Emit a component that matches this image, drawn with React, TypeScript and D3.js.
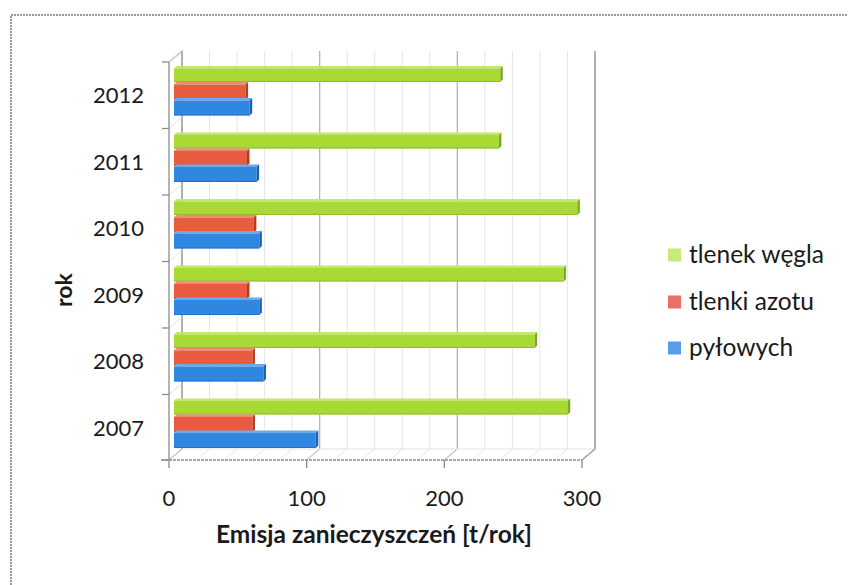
import { useMemo } from "react";
import * as d3 from "d3";

const years = ["2012", "2011", "2010", "2009", "2008", "2007"];
const seriesNames = ["tlenek węgla", "tlenki azotu", "pyłowych"];
// values per year, same order as years
const coValues = [237, 236, 293, 283, 262, 286];
const noxValues = [52, 53, 58, 53, 57, 57];
const dustValues = [55, 60, 62, 62, 65, 103];
const xTicks = [0, 100, 200, 300];
const minorTicks = d3.range(0, 301, 20);

const faceColors = ["#a9d934", "#e95b3e", "#2f87e0"];
const topColors = ["#c3e76a", "#f08a70", "#6aa9ee"];
const endColors = ["#7ea823", "#b53c22", "#1d5fb2"];
const legendColors = ["#c8ea78", "#ea6f66", "#5a9ceb"];

const FONT = "Lato, 'Open Sans', sans-serif";

export default function App() {
  const width = 848;
  const height = 585;
  const depth = { dx: 13, dy: -11 };
  const floorY = 460;
  const topY = 62;

  const x = useMemo(
    () => d3.scaleLinear().domain([0, 300]).range([169, 582]),
    [],
  );
  const y = useMemo(
    () => d3.scaleBand<string>().domain(years).range([topY, floorY + 1]),
    [],
  );
  const inner = useMemo(
    () => d3.scaleBand<string>().domain(seriesNames).range([4, 52]),
    [],
  );

  const series = [coValues, noxValues, dustValues];
  const barShift = 5;
  const d = 2.5;

  const bx = (v: number) => x(v) + barShift;

  return (
    <svg
      width={width}
      height={height}
      style={{ position: "absolute", left: 0, top: 0, background: "#fff" }}
      fontFamily={FONT}
    >
      {/* outer frame */}
      <path
        d={`M11,${height} L11,15 L${width},15`}
        fill="none"
        stroke="#7a7a7a"
        strokeWidth={1.5}
        strokeDasharray="2 1"
      />

      {/* back wall gridlines */}
      {minorTicks.map((t) => (
        <line
          key={"m" + t}
          x1={x(t) + depth.dx}
          x2={x(t) + depth.dx}
          y1={topY + depth.dy}
          y2={floorY + depth.dy}
          stroke={t % 100 === 0 ? "#b5b5b5" : "#e6e6e6"}
          strokeWidth={t % 100 === 0 ? 1.3 : 1}
        />
      ))}
      {/* floor */}
      {minorTicks.map((t) => (
        <line
          key={"f" + t}
          x1={x(t)}
          x2={x(t) + depth.dx}
          y1={floorY}
          y2={floorY + depth.dy}
          stroke={t % 100 === 0 ? "#a8a8a8" : "#e6e6e6"}
          strokeWidth={1}
        />
      ))}
      <line
        x1={x(0) + depth.dx}
        x2={x(300) + depth.dx}
        y1={floorY + depth.dy}
        y2={floorY + depth.dy}
        stroke="#e2e2e2"
      />
      {/* left wall */}
      <path
        d={`M${x(0)},${topY} L${x(0) + depth.dx},${topY + depth.dy} L${x(0) + depth.dx},${floorY + depth.dy}`}
        fill="none"
        stroke="#9a9a9a"
        strokeWidth={1.2}
      />
      {y.domain().map((yr) => (
        <line
          key={"lw" + yr}
          x1={x(0)}
          x2={x(0) + depth.dx}
          y1={y(yr)!}
          y2={y(yr)! + depth.dy}
          stroke="#e0e0e0"
        />
      ))}

      {/* bars */}
      {years.map((yr, i) => (
        <g key={yr}>
          {series.map((vals, s) => {
            const x0 = bx(0);
            const x1 = bx(vals[i]);
            const by = y(yr)! + inner(seriesNames[s])! + d;
            const fh = inner.bandwidth() - d + (s === 0 ? 0 : 1.5);
            return (
              <g key={s}>
                <polygon
                  points={`${x0},${by} ${x0 + d},${by - d} ${x1 + d},${by - d} ${x1},${by}`}
                  fill={topColors[s]}
                />
                <rect
                  x={x0}
                  y={by}
                  width={x1 - x0}
                  height={fh}
                  fill={faceColors[s]}
                />
                <line
                  x1={x0}
                  x2={x1}
                  y1={by + fh - 0.5}
                  y2={by + fh - 0.5}
                  stroke={endColors[s]}
                  strokeOpacity={0.6}
                />
                <polygon
                  points={`${x1},${by} ${x1 + d},${by - d} ${x1 + d},${by + fh - d} ${x1},${by + fh}`}
                  fill={endColors[s]}
                />
              </g>
            );
          })}
        </g>
      ))}

      {/* front axis */}
      <line
        x1={x(0)}
        x2={x(0)}
        y1={topY}
        y2={floorY}
        stroke="#8c8c8c"
        strokeWidth={1.3}
      />
      {[...years.map((yr) => y(yr)!), floorY].map((ty, i) => (
        <line
          key={"yt" + i}
          x1={x(0) - 7}
          x2={x(0)}
          y1={ty}
          y2={ty}
          stroke="#8c8c8c"
          strokeWidth={1.3}
        />
      ))}
      <line
        x1={x(0) - 8}
        x2={x(300)}
        y1={floorY}
        y2={floorY}
        stroke="#8c8c8c"
        strokeWidth={1.3}
        strokeDasharray="3 1"
      />
      <path
        d={`M${x(300)},${floorY} L${x(300) + depth.dx},${floorY + depth.dy} L${x(300) + depth.dx},${topY + depth.dy}`}
        fill="none"
        stroke="#a0a0a0"
        strokeWidth={1.3}
      />
      {xTicks.map((t) => (
        <g key={"xt" + t}>
          <line
            x1={x(t)}
            x2={x(t)}
            y1={floorY}
            y2={floorY + 8}
            stroke="#8c8c8c"
            strokeWidth={1.3}
          />
          <text
            x={x(t)}
            y={506}
            textAnchor="middle"
            fontSize={22}
            fill="#1a1a1a"
          >
            {t}
          </text>
        </g>
      ))}

      {/* category labels */}
      {years.map((yr) => (
        <text
          key={"yl" + yr}
          x={144}
          y={y(yr)! + y.bandwidth() / 2 + 8}
          textAnchor="end"
          fontSize={22}
          fill="#1a1a1a"
        >
          {yr}
        </text>
      ))}

      {/* axis titles */}
      <text
        x={374}
        y={543}
        textAnchor="middle"
        fontSize={24.5}
        fontWeight="bold"
        fill="#1a1a1a"
      >
        Emisja zanieczyszczeń [t/rok]
      </text>
      <text
        transform="translate(72,290) rotate(-90)"
        textAnchor="middle"
        fontSize={23}
        fontWeight="bold"
        fill="#1a1a1a"
      >
        rok
      </text>

      {/* legend */}
      {seriesNames.map((name, s) => {
        const cy = [255, 302, 348][s];
        return (
          <g key={name}>
            <rect
              x={668}
              y={cy - 6.5}
              width={13}
              height={13}
              fill={legendColors[s]}
            />
            <text x={689} y={cy + 7.5} fontSize={24.5} fill="#1a1a1a">
              {name}
            </text>
          </g>
        );
      })}
    </svg>
  );
}
